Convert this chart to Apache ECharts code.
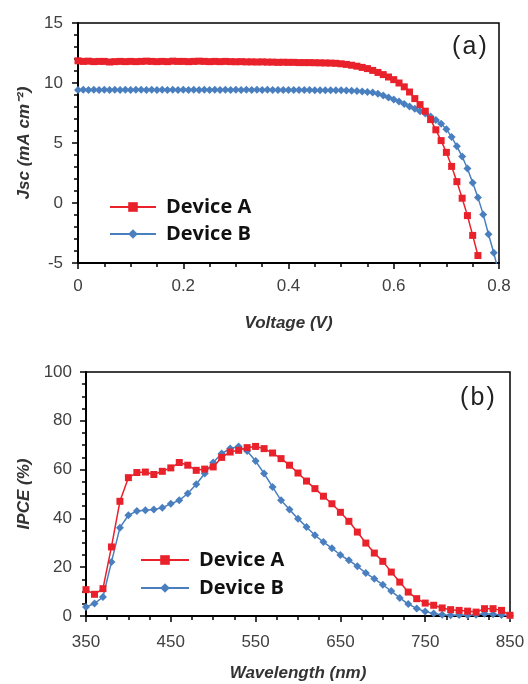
<!DOCTYPE html>
<html>
<head>
<meta charset="utf-8">
<script src="https://cdn.jsdelivr.net/npm/echarts@6/dist/echarts.min.js"></script>
<style>html,body{margin:0;padding:0;background:#fff}#c{width:528px;height:684px}</style>
</head>
<body>
<div id="c"></div>
<script>
// ---- Panel (a): J-V curves ----
var voltageA = [0.00,0.01,0.02,0.03,0.04,0.05,0.06,0.07,0.08,0.09,0.10,0.11,0.12,0.13,0.14,0.15,0.16,0.17,0.18,0.19,
  0.20,0.21,0.22,0.23,0.24,0.25,0.26,0.27,0.28,0.29,0.30,0.31,0.32,0.33,0.34,0.35,0.36,0.37,0.38,0.39,
  0.40,0.41,0.42,0.43,0.44,0.45,0.46,0.47,0.48,0.49,0.50,0.51,0.52,0.53,0.54,0.55,0.56,0.57,0.58,0.59,
  0.60,0.61,0.62,0.63,0.64,0.65,0.66,0.67,0.68,0.69,0.70,0.71,0.72,0.73,0.74,0.75,0.76];
var jscA = [11.85,11.80,11.82,11.78,11.80,11.80,11.75,11.78,11.80,11.78,11.80,11.78,11.80,11.82,11.80,11.78,11.80,11.78,11.82,11.80,
  11.80,11.78,11.80,11.82,11.80,11.78,11.80,11.78,11.80,11.78,11.77,11.78,11.76,11.76,11.75,11.76,11.74,11.74,11.72,11.73,
  11.72,11.72,11.70,11.70,11.70,11.69,11.68,11.67,11.66,11.64,11.60,11.55,11.48,11.40,11.30,11.20,11.05,10.88,10.70,10.50,
  10.28,10.00,9.68,9.25,8.70,8.20,7.65,6.95,6.10,5.20,4.22,3.05,1.78,0.40,-1.05,-2.70,-4.38];
var voltageB = [0.00,0.01,0.02,0.03,0.04,0.05,0.06,0.07,0.08,0.09,0.10,0.11,0.12,0.13,0.14,0.15,0.16,0.17,0.18,0.19,
  0.20,0.21,0.22,0.23,0.24,0.25,0.26,0.27,0.28,0.29,0.30,0.31,0.32,0.33,0.34,0.35,0.36,0.37,0.38,0.39,
  0.40,0.41,0.42,0.43,0.44,0.45,0.46,0.47,0.48,0.49,0.50,0.51,0.52,0.53,0.54,0.55,0.56,0.57,0.58,0.59,
  0.60,0.61,0.62,0.63,0.64,0.65,0.66,0.67,0.68,0.69,0.70,0.71,0.72,0.73,0.74,0.75,0.76,0.77,0.78,0.79,0.80];
var jscB = [9.42,9.43,9.42,9.44,9.42,9.43,9.42,9.44,9.42,9.43,9.42,9.44,9.43,9.42,9.44,9.42,9.43,9.42,9.44,9.42,
  9.43,9.42,9.44,9.42,9.43,9.42,9.44,9.42,9.43,9.42,9.44,9.42,9.43,9.42,9.43,9.42,9.43,9.42,9.42,9.42,
  9.42,9.42,9.41,9.41,9.41,9.40,9.40,9.40,9.40,9.40,9.39,9.38,9.36,9.33,9.30,9.26,9.20,9.10,8.95,8.80,
  8.62,8.45,8.25,8.05,7.85,7.65,7.45,7.20,6.92,6.60,6.15,5.50,4.72,3.87,2.87,1.68,0.45,-0.95,-2.60,-4.15,-5.90];

// ---- Panel (b): IPCE spectra ----
var wavelength = [350,360,370,380,390,400,410,420,430,440,450,460,470,480,490,500,510,520,530,540,
  550,560,570,580,590,600,610,620,630,640,650,660,670,680,690,700,710,720,730,740,
  750,760,770,780,790,800,810,820,830,840,850];
var ipceA = [10.8,8.9,11.2,28.3,47.0,56.7,58.8,59.0,58.0,59.3,60.7,62.9,61.8,59.7,60.2,61.1,65.0,67.2,67.9,69.0,
  69.5,68.6,66.8,64.5,61.8,58.6,55.3,52.2,49.1,46.0,42.5,38.8,34.4,29.9,25.8,22.4,18.0,13.9,9.8,7.1,
  5.3,4.4,3.3,2.6,2.3,2.0,1.6,3.0,3.0,2.3,0.3];
var ipceB = [3.7,5.1,7.8,22.1,36.2,41.3,43.0,43.3,43.6,44.4,46.0,47.4,50.2,54.0,58.4,62.9,66.6,68.6,69.5,67.6,
  63.5,58.4,52.9,47.4,43.6,39.9,36.5,33.1,30.3,27.8,25.0,22.8,20.4,17.6,15.3,12.8,10.2,7.4,4.9,3.1,
  1.8,1.0,0.5,0.3,0.4,0.3,0.5,0.9,0.7,0.4,0.1];

var seriesNames = ['Device A', 'Device B'];
var panelLabels = ['(\u200Aa\u200A)', '(\u200Ab\u200A)'];
var axisTitles = { ax: 'Voltage (V)', ay: 'Jsc (mA cm\u207B\u00B2)', bx: 'Wavelength (nm)', by: 'IPCE (%)' };

var RED = '#E8212B', BLUE = '#4A7FBF';
function zip(xs, ys) { return xs.map(function (x, i) { return [x, ys[i]]; }); }

var labelStyle = { color: '#404040', fontFamily: 'Liberation Sans, Arial, sans-serif', fontSize: 17 };
var nameStyle = { color: '#333', fontFamily: 'Liberation Sans, Arial, sans-serif', fontSize: 17, fontWeight: 'bold', fontStyle: 'italic' };
function axisCommon(extra) {
  var base = {
    type: 'value',
    axisLine: { show: true, onZero: false, lineStyle: { color: '#000', width: 2 } },
    axisTick: { show: true, inside: false, length: 6, lineStyle: { color: '#000', width: 1.5 } },
    splitLine: { show: false },
    nameLocation: 'middle',
    nameTextStyle: nameStyle
  };
  for (var k in extra) base[k] = extra[k];
  return base;
}
function minor(n) { return { show: true, splitNumber: n, length: 4, lineStyle: { color: '#000', width: 1.5 } }; }
function lbl(m) { return { margin: m, color: labelStyle.color, fontFamily: labelStyle.fontFamily, fontSize: labelStyle.fontSize }; }

var chart = echarts.init(document.getElementById('c'), null, { renderer: 'canvas' });
chart.setOption({
  animation: false,
  backgroundColor: '#fff',
  grid: [
    { left: 78, top: 23, width: 421, height: 240, show: true, borderColor: '#000', borderWidth: 1.5, backgroundColor: 'transparent' },
    { left: 86, top: 372, width: 424, height: 244, show: true, borderColor: '#000', borderWidth: 1.5, backgroundColor: 'transparent' }
  ],
  xAxis: [
    axisCommon({ gridIndex: 0, min: 0, max: 0.8, interval: 0.2, minorTick: minor(4), axisLabel: lbl(15), name: axisTitles.ax, nameGap: 52 }),
    axisCommon({ gridIndex: 1, min: 350, max: 850, interval: 100, minorTick: minor(4), axisLabel: lbl(18), name: axisTitles.bx, nameGap: 49 })
  ],
  yAxis: [
    axisCommon({ gridIndex: 0, min: -5, max: 15, interval: 5, minorTick: minor(5), axisLabel: lbl(15), name: axisTitles.ay, nameGap: 38 }),
    axisCommon({ gridIndex: 1, min: 0, max: 100, interval: 20, minorTick: minor(4), axisLabel: lbl(14), name: axisTitles.by, nameGap: 45 })
  ],
  legend: [
    { orient: 'vertical', left: 104, top: 192, itemWidth: 46, itemHeight: 12, itemGap: 7,
      data: seriesNames, selectedMode: false,
      textStyle: { fontFamily: 'Open Sans, sans-serif', fontWeight: 'bold', fontSize: 20, color: '#111', padding: [0, 0, 0, 5] } },
    { orient: 'vertical', left: 135, top: 545, itemWidth: 48, itemHeight: 12, itemGap: 8,
      data: seriesNames, selectedMode: false,
      textStyle: { fontFamily: 'Open Sans, sans-serif', fontWeight: 'bold', fontSize: 20, color: '#111', padding: [0, 0, 0, 5] } }
  ],
  graphic: [
    { type: 'text', left: 452, top: 35, style: { text: panelLabels[0], font: '25px "Liberation Sans", Arial, sans-serif', fill: '#222' } },
    { type: 'text', left: 460, top: 386, style: { text: panelLabels[1], font: '25px "Liberation Sans", Arial, sans-serif', fill: '#222' } }
  ],
  series: [
    { name: seriesNames[0], type: 'line', xAxisIndex: 0, yAxisIndex: 0, data: zip(voltageA, jscA),
      symbol: 'rect', symbolSize: 7, showAllSymbol: true, itemStyle: { color: RED }, lineStyle: { color: RED, width: 1.5 }, z: 3 },
    { name: seriesNames[1], type: 'line', xAxisIndex: 0, yAxisIndex: 0, data: zip(voltageB, jscB),
      symbol: 'diamond', symbolSize: 8, showAllSymbol: true, itemStyle: { color: BLUE }, lineStyle: { color: BLUE, width: 1.5 }, z: 2 },
    { name: seriesNames[0], type: 'line', xAxisIndex: 1, yAxisIndex: 1, data: zip(wavelength, ipceA),
      symbol: 'rect', symbolSize: 7, showAllSymbol: true, itemStyle: { color: RED }, lineStyle: { color: RED, width: 1.5 }, z: 3 },
    { name: seriesNames[1], type: 'line', xAxisIndex: 1, yAxisIndex: 1, data: zip(wavelength, ipceB),
      symbol: 'diamond', symbolSize: 8, showAllSymbol: true, itemStyle: { color: BLUE }, lineStyle: { color: BLUE, width: 1.5 }, z: 2 }
  ]
});
</script>
</body>
</html>
